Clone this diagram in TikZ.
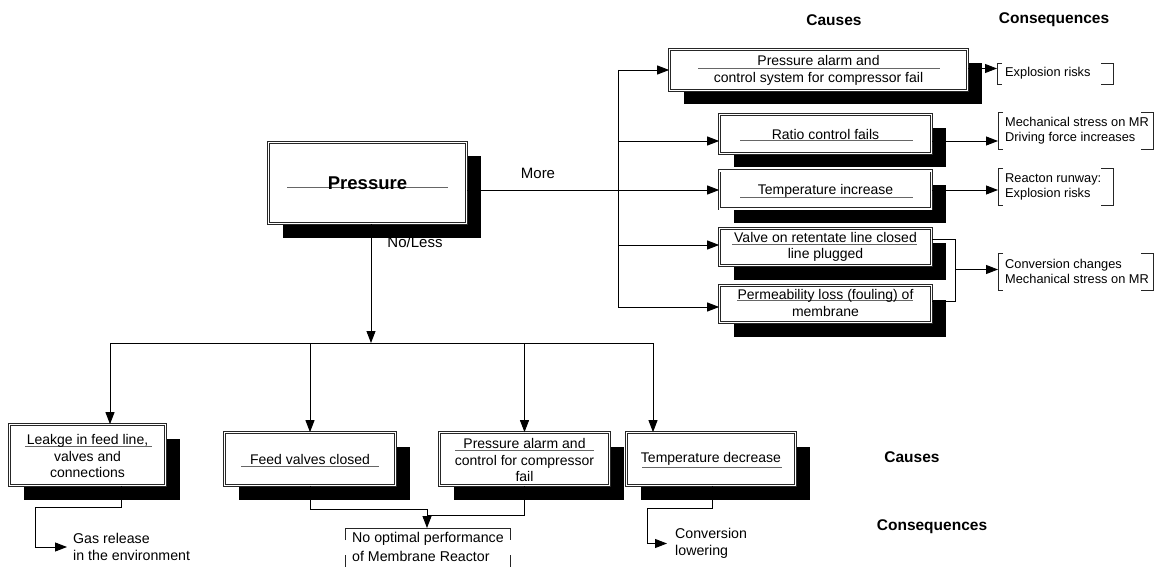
\documentclass[tikz,border=0pt]{standalone}
\usepackage{fontspec}
\setmainfont{Liberation Sans}
\usetikzlibrary{arrows.meta,shadows,calc}
\begin{document}
\begin{tikzpicture}[x=1pt,y=-1pt,
  cbox/.style={draw=black!85, double=white, double distance=1.6pt, line width=0.7pt,
    fill=white, inner sep=0pt,
    drop shadow={shadow xshift=14pt, shadow yshift=-14pt, fill=black, opacity=1}},
  btext/.style={align=center, inner sep=0pt, font=\fontsize{14}{16.5}\selectfont},
  cons/.style={align=left, inner sep=0pt, anchor=west, font=\fontsize{12.8}{15}\selectfont},
  bcons/.style={align=left, inner sep=0pt, font=\fontsize{14.2}{17}\selectfont},
  head/.style={inner sep=0pt, font=\fontsize{15.5}{17}\selectfont\bfseries},
  lbl/.style={inner sep=0pt, font=\fontsize{15}{17}\selectfont},
  conn/.style={line width=0.9pt},
  arr/.style={line width=0.9pt, -{Triangle[length=12pt,width=9pt]}},
  brk/.style={line width=0.8pt, draw=black!85},
  uline/.style={line width=0.9pt, draw=black!60}]
\useasboundingbox (0,0) rectangle (1163,567);

% headers
\node[head] (h1) at (834,20) {Causes};
\node[head] (h2) at (1054,20) {Consequences};
\node[head] (h3) at (912,457) {Causes};
\node[head] (h4) at (932,527) {Consequences};

% main node
\node[cbox, minimum width=198, minimum height=81] (P) at (367.5,183) {};
\draw[uline] (287,187) -- (448,187);
\node[inner sep=0pt, font=\fontsize{18.5}{20}\selectfont\bfseries] (Pt) at (367.5,183) {Pressure};

% upper (More) causes
\node[cbox, minimum width=298, minimum height=41] (b1) at (818.5,70) {};
\node[cbox, minimum width=212, minimum height=39] (b2) at (825.5,134) {};
\node[cbox, minimum width=212, minimum height=38] (b3) at (825.5,190) {};
\node[cbox, minimum width=212, minimum height=37] (b4) at (825.5,247) {};
\node[cbox, minimum width=212, minimum height=37] (b5) at (825.5,304) {};
\draw[uline] (698,68) -- (940,68);
\draw[uline] (740,140) -- (913,140);
\draw[uline] (740,197) -- (913,197);
\draw[uline] (732,244) -- (917,244);
\draw[uline] (737,300) -- (913,300);
\node[btext] (b1t) at (818.5,70.5) {Pressure alarm and\\control system for compressor fail};
\node[btext] (b2t) at (825.5,134) {Ratio control fails};
\node[btext] (b3t) at (825.5,191) {Temperature increase};
\node[btext] (b4t) at (825.5,247) {Valve on retentate line closed\\line plugged};
\node[btext] (b5t) at (825.5,303) {Permeability loss (fouling) of\\membrane};

% consequences (upper)
\node[cons] (c1) at (1005,73.5) {Explosion risks};
\node[cons] (c2) at (1005,130.5) {Mechanical stress on MR\\Driving force increases};
\node[cons] (c3) at (1005,187) {Reacton runway:\\Explosion risks};
\node[cons] (c4) at (1005,271.5) {Conversion changes\\Mechanical stress on MR};
\foreach \l/\r/\t/\b in {997/1113/63/84, 998/1153/112/149, 998/1113/168/205, 998/1153/253/290}{
  \draw[brk] (\l+5,\t) -- (\l,\t) -- (\l,\b) -- (\l+5,\b);
  \draw[brk] (\r-12,\t) -- (\r,\t) -- (\r,\b) -- (\r-12,\b);
}
\coordinate (k1) at (997,73.5);
\coordinate (k2) at (998,130.5);
\coordinate (k3) at (998,187);
\coordinate (k4) at (998,271.5);

% More branch
\node[lbl] (more) at (538,173) {More};
\coordinate (spine) at (618,0);
\coordinate (join) at (955,0);
\draw[arr] ([yshift=-7pt]P.east) -- ([yshift=-7pt]P.east -| b3.west);
\draw[conn] (b1.west -| spine) -- ([yshift=-3pt]b5.west -| spine);
\draw[arr] (b1.west -| spine) -- (b1.west);
\draw[arr] ([yshift=-7pt]b2.west -| spine) -- ([yshift=-7pt]b2.west);
\draw[arr] ([yshift=2pt]b4.west -| spine) -- ([yshift=2pt]b4.west);
\draw[arr] ([yshift=-3pt]b5.west -| spine) -- ([yshift=-3pt]b5.west);
\draw[arr] ([yshift=1.5pt]b1.east) -- ([yshift=1.5pt]b1.east -| k1);
\draw[arr] ([yshift=-7pt]b2.east) -- ([yshift=-7pt]b2.east -| k2);
\draw[arr] (b3.east) -- (b3.east -| k3);
\draw[conn] ([yshift=8pt]b4.east) -- ([yshift=8pt]b4.east -| join) -- ([yshift=3pt]b5.east -| join) -- ([yshift=3pt]b5.east);
\draw[arr] ([yshift=2pt]k4 -| join) -- ([yshift=2pt]k4);

% No/Less branch
\node[lbl] (less) at (415,242) {No/Less};
\coordinate (dist) at (371,343);
\node[cbox, minimum width=156, minimum height=61] (L) at (87.5,455) {};
\node[cbox, minimum width=171, minimum height=53] (F) at (310,459) {};
\node[cbox, minimum width=170, minimum height=53] (PAC) at (524.5,459) {};
\node[cbox, minimum width=169, minimum height=53] (TD) at (711,459) {};
\draw[uline] (25,446) -- (152,446);
\draw[uline] (241,466) -- (379,466);
\draw[uline] (455,450) -- (594,450);
\draw[uline] (642,467) -- (782,467);
\node[btext] (Lt) at (87.5,456) {Leakge in feed line,\\valves and\\connections};
\node[btext] (Ft) at (310,459) {Feed valves closed};
\node[btext] (PACt) at (524.5,460) {Pressure alarm and\\control for compressor\\fail};
\node[btext] (TDt) at (711,459) {Temperature decrease};

\draw[arr] (P.south -| dist) -- (dist);
\draw[conn] ([xshift=22.5pt]L.north |- dist) -- ([xshift=-58pt]TD.north |- dist);
\draw[arr] ([xshift=22.5pt]L.north |- dist) -- ([xshift=22.5pt]L.north);
\draw[arr] (F.north |- dist) -- (F.north);
\draw[arr] (PAC.north |- dist) -- (PAC.north);
\draw[arr] ([xshift=-58pt]TD.north |- dist) -- ([xshift=-58pt]TD.north);

% lower consequences
\node[bcons, anchor=west, inner xsep=6pt] (G) at (67,547) {Gas release\\in the environment};
\node[bcons, anchor=west, font=\fontsize{14.2}{18.5}\selectfont] (NO) at (352,547) {No optimal performance\\of Membrane Reactor};
\coordinate (notop) at (427,528);
\node[bcons, anchor=west, inner xsep=8pt] (CL) at (667,543.5) {Conversion\\lowering};
\coordinate (gcorner) at (35,507);
\coordinate (tdcorner) at (647,508);
\draw[arr] ([xshift=33.5pt]L.south) |- (gcorner) |- (G.west);
\draw[arr] (F.south) |- ([yshift=19pt]notop) -- (notop);
\draw[conn] (PAC.south) |- ([yshift=13pt]notop);
\draw[arr] ([xshift=1pt]TD.south) |- (tdcorner) |- (CL.west);
\draw[brk] (345,540) -- (345,528) -- (510,528) -- (510,540);
\draw[brk] (345,555) -- (345,567);
\draw[brk] (510,555) -- (510,567);
\end{tikzpicture}
\end{document}
